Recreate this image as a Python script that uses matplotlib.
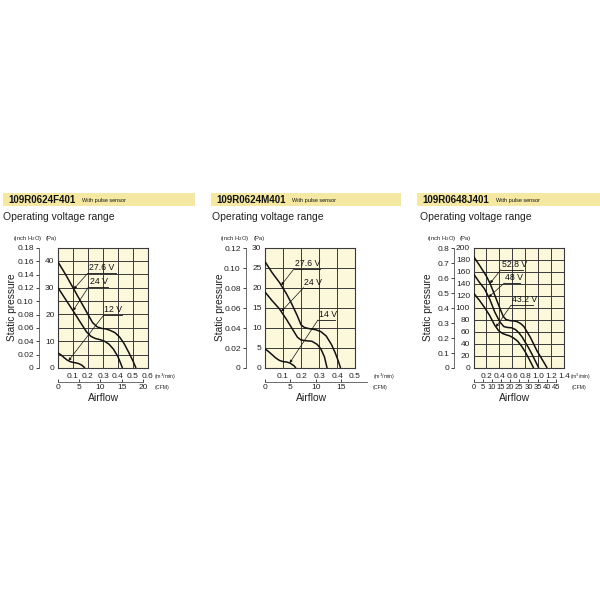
import matplotlib
matplotlib.use("Agg")
import matplotlib.pyplot as plt
from matplotlib.patches import Rectangle
import numpy as np

plt.rcParams['font.family'] = ['Liberation Sans', 'DejaVu Sans']

PA_PER_INCH = 249.089
CFM_PER_M3 = 35.3147

# ---------------- data ----------------
models = ["109R0624F401", "109R0624M401", "109R0648J401"]
subtitle = "With pulse sensor"
heading = "Operating voltage range"

# Panel 1: 109R0624F401  (x: m3/min, y: Pa)
f_v276_x = [0, 0.05, 0.10, 0.15, 0.20, 0.23, 0.26, 0.29, 0.32, 0.35, 0.38, 0.41, 0.44, 0.47, 0.50, 0.52]
f_v276_y = [39.6, 35.0, 30.0, 25.0, 20.0, 17.0, 15.4, 14.8, 14.6, 14.0, 13.2, 11.6, 9.2, 6.0, 2.6, 0]
f_v24_x = [0, 0.05, 0.10, 0.15, 0.19, 0.22, 0.25, 0.28, 0.31, 0.34, 0.37, 0.40, 0.43]
f_v24_y = [30.0, 25.7, 21.4, 17.0, 13.5, 11.8, 11.0, 10.6, 10.0, 8.9, 7.0, 4.2, 0]
f_v12_x = [0, 0.02, 0.04, 0.06, 0.08, 0.10, 0.12, 0.14, 0.16, 0.18]
f_v12_y = [5.6, 4.9, 3.9, 3.0, 2.4, 2.1, 1.9, 1.6, 1.0, 0]

# Panel 2: 109R0624M401
m_v276_x = [0, 0.04, 0.08, 0.12, 0.15, 0.18, 0.20, 0.22, 0.25, 0.28, 0.31, 0.34, 0.37, 0.39, 0.405, 0.42]
m_v276_y = [26.6, 23.8, 21.4, 18.5, 15.9, 13.0, 10.8, 10.1, 9.8, 9.6, 9.1, 8.0, 5.8, 3.8, 2.0, 0]
m_v24_x = [0, 0.04, 0.08, 0.12, 0.15, 0.18, 0.20, 0.23, 0.26, 0.29, 0.31, 0.33, 0.345]
m_v24_y = [19.0, 16.8, 14.8, 12.1, 9.9, 7.7, 7.0, 6.8, 6.7, 5.9, 4.8, 2.8, 0]
m_v14_x = [0, 0.02, 0.04, 0.06, 0.08, 0.10, 0.12, 0.14, 0.16, 0.172]
m_v14_y = [4.8, 4.1, 3.3, 2.5, 1.9, 1.6, 1.5, 1.2, 0.6, 0]

# Panel 3: 109R0648J401
j_v528_x = [0, 0.10, 0.20, 0.26, 0.33, 0.41, 0.46, 0.50, 0.56, 0.62, 0.67, 0.73, 0.78, 0.83, 0.88, 0.93, 0.98, 1.03, 1.08, 1.14]
j_v528_y = [186, 170, 153, 140, 121, 99, 86, 81, 79, 78.5, 77.5, 74, 69, 60, 51, 40, 29, 20, 11, 0]
j_v48_x = [0, 0.09, 0.17, 0.25, 0.33, 0.41, 0.47, 0.53, 0.59, 0.65, 0.70, 0.75, 0.80, 0.85, 0.90, 0.95, 1.01]
j_v48_y = [157, 143, 132, 115, 93, 76.5, 69, 67.5, 67, 64, 59, 52, 43, 34, 24, 13, 0]
j_v432_x = [0, 0.09, 0.17, 0.25, 0.33, 0.39, 0.45, 0.50, 0.56, 0.62, 0.68, 0.74, 0.80, 0.86, 0.93]
j_v432_y = [125, 113, 101, 87.5, 71, 62, 57.5, 55.5, 53.5, 50, 45, 37, 27, 15, 0]

curve_labels = [["27.6 V", "24 V", "12 V"],
                ["27.6 V", "24 V", "14 V"],
                ["52.8 V", "48 V", "43.2 V"]]
curves = [[(f_v276_x, f_v276_y), (f_v24_x, f_v24_y), (f_v12_x, f_v12_y)],
          [(m_v276_x, m_v276_y), (m_v24_x, m_v24_y), (m_v14_x, m_v14_y)],
          [(j_v528_x, j_v528_y), (j_v48_x, j_v48_y), (j_v432_x, j_v432_y)]]

# axis ticks
m3_ticks = [[0.1, 0.2, 0.3, 0.4, 0.5, 0.6], [0.1, 0.2, 0.3, 0.4, 0.5],
            [0.2, 0.4, 0.6, 0.8, 1.0, 1.2, 1.4]]
m3_tick_labels = [["0.1", "0.2", "0.3", "0.4", "0.5", "0.6"],
                  ["0.1", "0.2", "0.3", "0.4", "0.5"],
                  ["0.2", "0.4", "0.6", "0.8", "1.0", "1.2", "1.4"]]
cfm_ticks = [[0, 5, 10, 15, 20], [0, 5, 10, 15, 20],
             [0, 5, 10, 15, 20, 25, 30, 35, 40, 45]]
pa_ticks = [[0, 10, 20, 30, 40], [0, 5, 10, 15, 20, 25, 30],
            [0, 20, 40, 60, 80, 100, 120, 140, 160, 180, 200]]
inch_ticks = [[0, 0.02, 0.04, 0.06, 0.08, 0.10, 0.12, 0.14, 0.16, 0.18],
              [0, 0.02, 0.04, 0.06, 0.08, 0.10, 0.12],
              [0, 0.1, 0.2, 0.3, 0.4, 0.5, 0.6, 0.7, 0.8]]
inch_tick_labels = [["0", "0.02", "0.04", "0.06", "0.08", "0.10", "0.12", "0.14", "0.16", "0.18"],
                    ["0", "0.02", "0.04", "0.06", "0.08", "0.10", "0.12"],
                    ["0", "0.1", "0.2", "0.3", "0.4", "0.5", "0.6", "0.7", "0.8"]]

# ---------------- layout (pixels of a 600x600 canvas) ----------------
W = 600.0
def fx(x): return x / W
def fy(y): return 1 - y / W

xmax = [0.6, 0.5, 1.4]
ymax_inch = [0.18, 0.12, 0.8]
ygrid_step = [5, 5, 20]
xgrid_step = [0.1, 0.1, 0.2]
grid_left = [58, 265, 473.5]
grid_w = [90, 90, 90.5]
grid_top, grid_bot = 248, 368

band = [(3, 195), (211, 401), (417, 600)]
title_x = [8.3, 216.7, 422.7]
sub_x = [81.7, 292.3, 496]
op_x = [3.3, 212.3, 420]
sp_x = [12, 220, 428.3]
air_x = [103.3, 311.7, 515]
inch_x = [13.3, 220, 426.7]
pa_x = [46, 253.3, 459.3]
m3u_x = [154, 373.3, 569.5]
cfmu_x = [155, 373, 571.7]
m3u_size = [3.8, 3.8, 3.5]

# annotation layout: (arrow x on curve, underline start x, underline y, underline end x)
ann = [[(0.105, 0.198, 35.4, 0.387), (0.10, 0.205, 30.4, 0.333), (0.07, 0.305, 19.8, 0.427)],
       [(0.09, 0.161, 24.8, 0.306), (0.09, 0.215, 20.1, 0.298), (0.137, 0.294, 12.0, 0.39)],
       [(0.255, 0.425, 163.9, 0.773), (0.235, 0.476, 141.6, 0.719), (0.348, 0.58, 104.6, 0.928)]]

band_color = "#f5e8a2"
bg_color = "#fcf8dc"
grid_color = "#3a3a3a"
text_color = "#222222"

fig = plt.figure(figsize=(6, 6), dpi=100)
fig.patch.set_facecolor("white")

for i in range(3):
    # header band
    fig.patches.append(Rectangle((fx(band[i][0]), fy(206)), (band[i][1] - band[i][0]) / W, 13 / W,
                                 transform=fig.transFigure, facecolor=band_color, edgecolor="none", zorder=0))
    fig.text(fx(title_x[i]), fy(199.8), models[i], fontsize=7, fontweight="bold", va="center", ha="left",
             color="#111111")
    fig.text(fx(sub_x[i]), fy(200.3), subtitle, fontsize=4, va="center", ha="left", color="#111111")
    fig.text(fx(op_x[i]), fy(216.7), heading, fontsize=7.5, va="center", ha="left", color=text_color)
    fig.text(fx(inch_x[i]), fy(238.3), "(inch H$_2$O)", fontsize=4.2, va="center", ha="left", color=text_color)
    fig.text(fx(pa_x[i]), fy(238.3), "(Pa)", fontsize=4.2, va="center", ha="left", color=text_color)
    fig.text(fx(sp_x[i]), fy(307), "Static pressure", fontsize=7.3, rotation=90, va="center", ha="center",
             color=text_color)
    fig.text(fx(air_x[i]), fy(398.3), "Airflow", fontsize=7.5, va="center", ha="center", color=text_color)
    fig.text(fx(m3u_x[i]), fy(376.7), "(m$^3$/min)", fontsize=m3u_size[i], va="center", ha="left",
             color=text_color)
    fig.text(fx(cfmu_x[i]), fy(387.5), "(CFM)", fontsize=3.8, va="center", ha="left", color=text_color)

    ax = fig.add_axes([fx(grid_left[i]), fy(grid_bot), grid_w[i] / W, (grid_bot - grid_top) / W])
    ax.set_facecolor(bg_color)
    ymax = ymax_inch[i] * PA_PER_INCH
    ax.set_xlim(0, xmax[i])
    ax.set_ylim(0, ymax)
    for s in ax.spines.values():
        s.set_color(grid_color)
        s.set_linewidth(0.8)
    # grid
    for gx in np.arange(xgrid_step[i], xmax[i] - 1e-9, xgrid_step[i]):
        ax.axvline(gx, color=grid_color, lw=0.7, zorder=1)
    for gy in np.arange(ygrid_step[i], ymax - 1, ygrid_step[i]):
        ax.axhline(gy, color=grid_color, lw=0.7, zorder=1)

    ax.set_xticks(m3_ticks[i])
    ax.set_xticklabels(m3_tick_labels[i])
    ax.set_yticks(pa_ticks[i])
    ax.set_yticklabels([str(t) for t in pa_ticks[i]])
    ax.tick_params(axis="both", length=0, labelsize=6, colors=text_color)
    ax.tick_params(axis="x", pad=3.5)
    ax.tick_params(axis="y", pad=2.5)

    for (cx, cy) in curves[i]:
        ax.plot(cx, cy, color="#111111", lw=1.1, zorder=3, solid_capstyle="butt")

    for k, (axx, ux, uy, ue) in enumerate(ann[i]):
        cx, cy = curves[i][k]
        ay = float(np.interp(axx, cx, cy))
        ax.annotate("", xy=(axx, ay), xytext=(ux, uy),
                    arrowprops=dict(arrowstyle="-|>", lw=0.5, color="#111111", mutation_scale=4,
                                    shrinkA=0, shrinkB=0), zorder=4)
        ax.plot([ux, ue], [uy, uy], color="#111111", lw=0.6, zorder=4)
        ax.text(ux + (ue - ux) * 0.04, uy + ymax * 0.008, curve_labels[i][k], fontsize=6.3,
                va="bottom", ha="left", color="#111111", zorder=5)

    # inch H2O axis
    sec_y = ax.secondary_yaxis(-19.5 / grid_w[i], functions=(lambda p: p / PA_PER_INCH,
                                                             lambda v: v * PA_PER_INCH))
    sec_y.set_yticks(inch_ticks[i])
    sec_y.set_yticklabels(inch_tick_labels[i])
    sec_y.tick_params(axis="y", direction="out", length=2, width=0.6, labelsize=6, pad=1.5,
                      colors=text_color)
    sec_y.spines["left"].set_color("#555555")
    sec_y.spines["left"].set_linewidth(0.6)

    # CFM axis
    sec_x = ax.secondary_xaxis(-14 / (grid_bot - grid_top), functions=(lambda m: m * CFM_PER_M3,
                                                                       lambda c: c / CFM_PER_M3))
    sec_x.set_xticks(cfm_ticks[i])
    sec_x.set_xticklabels([str(t) for t in cfm_ticks[i]])
    sec_x.tick_params(axis="x", direction="in", length=2.5, width=0.6, labelsize=6 if i < 2 else 5.5,
                      pad=1.5, colors=text_color)
    sec_x.spines["bottom"].set_color("#555555")
    sec_x.spines["bottom"].set_linewidth(0.6)
    sec_x.spines["bottom"].set_bounds(0, cfm_ticks[i][-1])

fig.savefig("out.png", dpi=100, facecolor="white")
